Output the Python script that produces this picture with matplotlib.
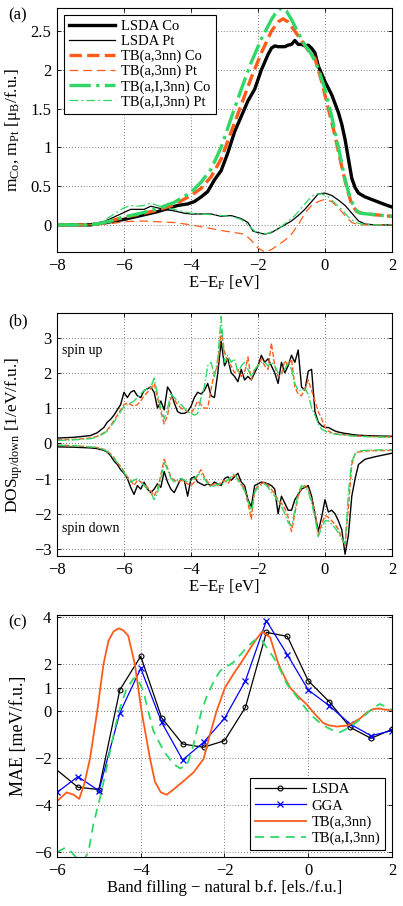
import numpy as np
import matplotlib
matplotlib.use('Agg')
import matplotlib.pyplot as plt
from matplotlib.ticker import FuncFormatter

plt.rcParams['font.family'] = ['Liberation Serif', 'DejaVu Serif']
plt.rcParams['mathtext.fontset'] = 'custom'
plt.rcParams['mathtext.rm'] = 'Liberation Serif'
plt.rcParams['mathtext.it'] = 'Liberation Serif:italic'
plt.rcParams['font.size'] = 12

ORANGE = '#ff5c1a'
GREEN = '#2fd866'

# ---- (a) magnetic moments vs E-E_F ----
co_lsda_e = [-8, -7, -6.7, -6.4, -6.0, -5.7, -5.4, -5.0, -4.7, -4.4, -4.1, -3.9, -3.7, -3.5, -3.3, -3.1,
             -2.9, -2.7, -2.5, -2.3, -2.1, -1.9, -1.8, -1.7, -1.6, -1.5, -1.4, -1.3, -1.2, -1.1, -1.0,
             -0.9, -0.8, -0.7, -0.6, -0.5, -0.4, -0.3, -0.2, -0.1, 0.0, 0.2, 0.4, 0.5, 0.6, 0.7, 0.8,
             0.9, 1.0, 1.2, 1.5, 1.8, 2.0]
co_lsda = [0, 0.0, 0.02, 0.04, 0.07, 0.1, 0.13, 0.17, 0.21, 0.25, 0.27, 0.3, 0.36, 0.43, 0.58, 0.7,
           0.93, 1.2, 1.4, 1.6, 1.75, 2.0, 2.1, 2.2, 2.28, 2.31, 2.3, 2.3, 2.3, 2.32, 2.33,
           2.38, 2.33, 2.33, 2.31, 2.32, 2.28, 2.22, 2.05, 1.95, 1.85, 1.68, 1.45, 1.3, 1.1, 0.85, 0.6,
           0.48, 0.41, 0.36, 0.31, 0.26, 0.23]

co_tb_e = [-8, -7, -6.7, -6.4, -6.0, -5.5, -5.0, -4.5, -4.0, -3.7, -3.4, -3.1, -2.8, -2.5, -2.2, -1.9,
           -1.6, -1.4, -1.25, -1.1, -0.9, -0.7, -0.5, -0.3, -0.1, 0.1, 0.3, 0.5, 0.65, 0.8, 0.95,
           1.1, 1.5, 2.0]
co_tb = [0, 0, 0.02, 0.05, 0.1, 0.14, 0.19, 0.26, 0.38, 0.47, 0.62, 0.85, 1.2, 1.55, 1.9, 2.22,
         2.5, 2.62, 2.66, 2.62, 2.5, 2.38, 2.25, 2.15, 1.85, 1.5, 1.15, 0.75, 0.48, 0.26, 0.17,
         0.15, 0.13, 0.11]

co_tbi_e = [-8, -7, -6.7, -6.4, -6.0, -5.5, -5.0, -4.5, -4.0, -3.7, -3.4, -3.1, -2.8, -2.5, -2.2, -1.9,
            -1.6, -1.45, -1.3, -1.15, -1.0, -0.8, -0.6, -0.4, -0.2, 0.0, 0.2, 0.4, 0.6, 0.75, 0.9,
            1.05, 1.5, 2.0]
co_tbi = [0, 0, 0.02, 0.05, 0.1, 0.15, 0.21, 0.29, 0.42, 0.55, 0.72, 1.0, 1.38, 1.75, 2.1, 2.4,
          2.65, 2.75, 2.8, 2.76, 2.65, 2.48, 2.32, 2.2, 2.02, 1.75, 1.4, 1.0, 0.58, 0.35, 0.2,
          0.15, 0.13, 0.11]

pt_lsda_e = [-8, -7, -6.6, -6.3, -6.0, -5.8, -5.6, -5.4, -5.2, -5.0, -4.8, -4.5, -4.2, -4.0, -3.7, -3.4,
             -3.1, -2.8, -2.5, -2.3, -2.15, -2.0, -1.8, -1.6, -1.4, -1.2, -1.0, -0.8, -0.6, -0.4, -0.2,
             0.0, 0.2, 0.4, 0.6, 0.8, 1.0, 1.2, 1.5, 2.0]
pt_lsda = [0, 0, 0.04, 0.1, 0.16, 0.2, 0.2, 0.2, 0.24, 0.22, 0.2, 0.18, 0.15, 0.14, 0.14, 0.14,
           0.11, 0.12, 0.08, 0.03, -0.08, -0.1, -0.12, -0.1, -0.05, 0.0, 0.05, 0.12, 0.2, 0.3, 0.4,
           0.41, 0.38, 0.32, 0.25, 0.15, 0.05, 0.01, 0.0, 0.0]

pt_tb_e = [-8, -7, -6.5, -6.0, -5.5, -5.0, -4.5, -4.0, -3.5, -3.0, -2.7, -2.4, -2.2, -2.0, -1.8, -1.6,
           -1.4, -1.2, -1.0, -0.8, -0.6, -0.4, -0.2, 0.0, 0.2, 0.4, 0.6, 0.8, 1.0, 1.5, 2.0]
pt_tb = [0, 0, 0.01, 0.04, 0.05, 0.04, 0.03, 0.0, -0.04, -0.08, -0.1, -0.12, -0.2, -0.3, -0.35, -0.32,
         -0.26, -0.2, -0.12, 0.0, 0.15, 0.25, 0.3, 0.33, 0.3, 0.22, 0.12, 0.03, 0.0, 0.0, 0.0]

pt_tbi_e = [-8, -7, -6.6, -6.3, -6.0, -5.8, -5.6, -5.4, -5.2, -5.0, -4.8, -4.5, -4.2, -4.0, -3.7, -3.4,
            -3.1, -2.8, -2.5, -2.3, -2.1, -1.9, -1.7, -1.5, -1.3, -1.1, -0.9, -0.7, -0.5, -0.3, -0.1,
            0.1, 0.3, 0.5, 0.7, 0.9, 1.1, 1.5, 2.0]
pt_tbi = [0, 0, 0.05, 0.14, 0.22, 0.25, 0.24, 0.25, 0.28, 0.25, 0.22, 0.2, 0.17, 0.15, 0.14, 0.13,
          0.12, 0.11, 0.07, 0.0, -0.08, -0.12, -0.11, -0.07, -0.02, 0.05, 0.12, 0.22, 0.32, 0.4, 0.4,
          0.36, 0.28, 0.2, 0.1, 0.03, 0.01, 0.0, 0.0]

# ---- (b) DOS spin up / spin down ----
dos_e = [-8, -7.5, -7, -6.8, -6.6, -6.5, -6.4, -6.3, -6.2, -6.1, -6.0, -5.9, -5.8, -5.7, -5.6, -5.5,
         -5.4, -5.3, -5.2, -5.1, -5.0, -4.9, -4.8, -4.7, -4.6, -4.5, -4.4, -4.3, -4.2, -4.1, -4.0,
         -3.9, -3.8, -3.7, -3.6, -3.5, -3.4, -3.3, -3.2, -3.1, -3.0, -2.9, -2.8, -2.7, -2.6, -2.5,
         -2.4, -2.3, -2.2, -2.1, -2.0, -1.9, -1.8, -1.7, -1.6, -1.5, -1.4, -1.3, -1.2, -1.1, -1.0,
         -0.9, -0.8, -0.7, -0.6, -0.5, -0.4, -0.3, -0.2, -0.1, 0.0, 0.1, 0.2, 0.3, 0.4, 0.5,
         0.6, 0.7, 0.8, 0.9, 1.0, 1.2, 1.5, 2.0]

up_lsda = [0.15, 0.17, 0.22, 0.3, 0.45, 0.6, 0.68, 0.8, 0.95, 1.1, 1.45, 1.3, 1.45, 1.5, 1.35, 1.3,
           1.5, 1.55, 1.6, 1.45, 1.0, 1.2, 0.95, 1.6, 1.45, 1.15, 0.9, 0.85, 0.85, 0.9, 1.05,
           1.3, 1.45, 1.4, 1.5, 1.7, 1.35, 1.3, 2.0, 2.9, 2.2, 2.4, 2.0, 1.9, 1.75, 2.1,
           1.8, 1.9, 1.8, 2.0, 2.2, 2.5, 2.3, 2.4, 2.2, 2.0, 1.7, 2.3, 2.0, 2.2, 2.5,
           2.3, 2.65, 1.6, 1.5, 2.05, 2.1, 0.9, 0.6, 0.5, 0.45, 0.45, 0.4, 0.35, 0.32, 0.3,
           0.28, 0.27, 0.25, 0.24, 0.23, 0.22, 0.21, 0.2]
up_tb = [0.1, 0.11, 0.15, 0.2, 0.3, 0.38, 0.5, 0.65, 0.8, 0.95, 1.1, 1.15, 1.1, 1.05, 1.1, 1.2,
         1.35, 1.45, 1.55, 1.7, 1.3, 0.9, 0.55, 0.8, 1.3, 1.25, 1.1, 1.0, 0.95, 0.9, 0.85,
         1.0, 1.2, 1.1, 1.0, 1.0, 1.55, 2.0, 2.2, 3.2, 2.6, 2.3, 2.2, 2.0, 2.1, 1.9,
         2.0, 2.45, 1.8, 2.1, 2.2, 2.4, 2.2, 2.1, 2.85, 2.2, 1.9, 1.95, 2.35, 2.2, 2.4,
         1.6, 1.4, 1.35, 1.55, 1.8, 1.5, 1.2, 0.9, 0.7, 0.45, 0.35, 0.3, 0.28, 0.26, 0.25,
         0.24, 0.23, 0.22, 0.21, 0.2, 0.2, 0.19, 0.18]
up_tbi = [0.08, 0.1, 0.13, 0.18, 0.28, 0.35, 0.48, 0.6, 0.75, 0.9, 1.05, 1.1, 1.15, 1.2, 1.3, 1.4,
          1.5, 1.55, 1.6, 1.85, 1.4, 1.0, 0.7, 1.0, 1.4, 1.3, 1.2, 1.1, 1.0, 0.9, 0.85,
          0.8, 0.85, 1.3, 1.6, 2.2, 2.3, 1.9, 2.4, 3.6, 2.3, 2.5, 2.3, 2.4, 2.0, 2.2,
          2.3, 2.1, 1.9, 2.1, 2.2, 2.3, 2.3, 2.2, 2.3, 2.2, 2.0, 2.0, 2.1, 2.3, 2.1,
          1.7, 1.5, 1.5, 1.55, 1.4, 1.0, 0.8, 0.55, 0.4, 0.35, 0.3, 0.28, 0.26, 0.25, 0.24,
          0.23, 0.22, 0.21, 0.2, 0.2, 0.19, 0.18, 0.17]

down_lsda = [-0.1, -0.11, -0.13, -0.15, -0.2, -0.25, -0.35, -0.5, -0.6, -0.75, -0.85, -1.0, -1.25, -1.45, -1.2, -1.3,
             -1.1, -1.3, -1.4, -1.3, -1.15, -1.25, -0.8, -1.1, -1.3, -1.4, -1.2, -1.0, -1.05, -1.5, -1.0,
             -0.95, -1.1, -1.15, -1.2, -1.15, -1.2, -1.1, -1.15, -1.2, -1.0, -0.95, -1.05, -0.95, -0.85, -1.1,
             -1.2, -1.6, -1.8, -1.2, -1.15, -1.1, -1.12, -1.15, -1.2, -1.3, -2.0, -1.5, -1.7, -1.9, -1.9,
             -1.6, -1.45, -1.3, -1.25, -1.2, -1.5, -2.0, -2.5, -2.1, -1.6, -1.95, -1.9, -2.0, -2.2, -2.45,
             -3.15, -2.6, -1.5, -1.0, -0.6, -0.45, -0.38, -0.28]
down_tb = [-0.05, -0.07, -0.1, -0.12, -0.17, -0.22, -0.3, -0.4, -0.55, -0.65, -0.8, -0.95, -1.05, -1.2, -1.05, -1.1,
           -1.15, -1.25, -1.35, -1.5, -1.3, -0.9, -0.45, -0.7, -0.95, -1.05, -1.1, -1.05, -1.1, -1.15, -1.2,
           -1.1, -0.9, -0.75, -0.95, -1.1, -1.2, -1.15, -1.2, -1.1, -1.05, -1.15, -1.0, -0.9, -1.0, -1.15,
           -1.3, -1.7, -2.15, -1.35, -1.2, -1.15, -1.1, -1.2, -1.3, -1.45, -1.6, -1.7, -1.85, -2.1, -2.5,
           -2.0, -1.5, -1.25, -1.2, -1.3, -1.6, -1.95, -2.6, -2.3, -2.05, -2.1, -2.2, -2.3, -2.45, -2.7,
           -2.9, -1.8, -0.6, -0.3, -0.25, -0.22, -0.21, -0.2]
down_tbi = [-0.05, -0.07, -0.1, -0.12, -0.18, -0.23, -0.32, -0.42, -0.55, -0.68, -0.82, -0.98, -1.1, -1.05, -1.0, -1.1,
            -1.2, -1.3, -1.4, -1.6, -1.4, -1.0, -0.55, -0.75, -1.0, -1.1, -1.05, -1.0, -1.05, -1.1, -1.05,
            -1.0, -0.9, -0.85, -1.0, -1.15, -1.25, -1.2, -1.15, -1.2, -1.1, -1.05, -0.95, -0.85, -1.05, -1.2,
            -1.35, -1.6, -1.95, -1.4, -1.25, -1.2, -1.15, -1.25, -1.4, -1.5, -1.65, -1.8, -2.0, -2.25, -2.35,
            -1.9, -1.4, -1.2, -1.25, -1.35, -1.7, -2.1, -2.65, -2.4, -2.2, -2.2, -2.3, -2.4, -2.55, -2.7,
            -2.85, -1.4, -0.5, -0.3, -0.22, -0.2, -0.19, -0.18]

# ---- (c) MAE vs band filling ----
bf_dft = [-6, -5.5, -5, -4.5, -4, -3.5, -3, -2.5, -2, -1.5, -1, -0.5, 0, 0.5, 1, 1.5, 2]
mae_lsda = [-2.5, -3.23, -3.33, 0.91, 2.34, -0.28, -1.39, -1.53, -1.25, 0.17, 3.36, 3.19, 1.30, 0.41, -0.68, -1.15, -0.77]
mae_gga = [-3.45, -2.78, -3.38, -0.07, 1.83, -0.47, -2.07, -1.32, -0.3, 1.3, 3.86, 2.41, 0.91, 0.24, -0.54, -1.04, -0.82]

bf_tb = [-6.0, -5.77, -5.6, -5.47, -5.35, -5.21, -5.04, -4.89, -4.77, -4.65, -4.53, -4.42, -4.3, -4.14, -3.98,
         -3.78, -3.66, -3.52, -3.38, -3.2, -3.06, -2.9, -2.74, -2.5, -2.35, -2.19, -1.99, -1.8, -1.63, -1.45,
         -1.27, -1.1, -0.91, -0.71, -0.55, -0.43, -0.25, -0.04, 0.15, 0.36, 0.5, 0.68, 0.96, 1.1, 1.24,
         1.4, 1.56, 1.7, 1.8, 2.0]
mae_tb = [-3.83, -3.45, -3.55, -3.73, -3.1, -2.0, 0.0, 2.0, 3.0, 3.4, 3.53, 3.45, 3.22, 2.0, 0.0,
          -2.0, -3.0, -3.45, -3.55, -3.3, -3.09, -2.85, -2.6, -2.03, -1.0, 0.0, 1.0, 1.55, 2.0, 2.5,
          3.0, 3.39, 3.15, 2.0, 1.4, 1.0, 0.65, 0.3, -0.1, -0.5, -0.6, -0.65, -0.6, -0.45, -0.3,
          -0.05, 0.1, 0.12, 0.08, 0.05]

bf_tbi = [-6.0, -5.8, -5.65, -5.5, -5.35, -5.25, -5.13, -4.97, -4.85, -4.73, -4.6, -4.49, -4.35, -4.18, -4.1,
          -3.94, -3.82, -3.7, -3.46, -3.22, -3.06, -2.9, -2.78, -2.66, -2.55, -2.43, -2.25, -2.1, -1.95, -1.79,
          -1.6, -1.47, -1.3, -1.2, -1.1, -0.95, -0.83, -0.65, -0.51, -0.35, -0.2, 0.04, 0.25, 0.44, 0.6,
          0.76, 0.99, 1.2, 1.39, 1.55, 1.71, 1.85, 2.0]
mae_tbi = [-6.0, -5.8, -6.0, -6.3, -6.3, -6.0, -4.8, -3.66, -2.7, -1.67, -0.6, 0.17, 0.9, 1.38, 1.45,
           0.88, 0.0, -0.82, -1.67, -2.24, -2.43, -2.3, -1.7, -0.82, 0.0, 0.6, 1.3, 1.73, 1.9, 2.08,
           2.45, 2.72, 3.0, 3.1, 3.0, 2.6, 2.3, 1.7, 1.16, 0.8, 0.45, -0.11, -0.45, -0.68, -0.82,
           -0.89, -0.68, -0.4, -0.11, 0.15, 0.31, 0.2, 0.06]


def style_axes(ax):
    ax.tick_params(direction='in', top=True, right=True, length=3, width=0.6, labelsize=12, pad=4)
    ax.grid(True, linestyle=(0, (1, 2.5)), color='#555555', linewidth=0.6)
    for s in ax.spines.values():
        s.set_linewidth(0.8)


fig = plt.figure(figsize=(4.03, 9.06), dpi=100)
axa = fig.add_axes([0.1414, 0.7219, 0.8313, 0.2693])
axb = fig.add_axes([0.1414, 0.3863, 0.8313, 0.2682])
axc = fig.add_axes([0.1414, 0.0541, 0.8313, 0.2671])

# panel (a)
axa.plot(co_lsda_e, co_lsda, color='black', lw=2.4, label='LSDA Co')
axa.plot(pt_lsda_e, pt_lsda, color='black', lw=0.9, label='LSDA Pt')
axa.plot(co_tb_e, co_tb, color=ORANGE, lw=2.4, ls='--', label='TB(a,3nn) Co')
axa.plot(pt_tb_e, pt_tb, color=ORANGE, lw=0.9, ls=(0, (7, 4)), label='TB(a,3nn) Pt')
axa.plot(co_tbi_e, co_tbi, color=GREEN, lw=2.4, ls='-.', label='TB(a,I,3nn) Co')
axa.plot(pt_tbi_e, pt_tbi, color=GREEN, lw=0.9, ls=(0, (7, 2.5, 1.5, 2.5)), label='TB(a,I,3nn) Pt')
axa.set_xlim(-8, 2)
axa.set_ylim(-0.35, 2.8)
axa.set_xticks([-8, -6, -4, -2, 0, 2])
axa.set_yticks([0, 0.5, 1, 1.5, 2, 2.5])
axa.yaxis.set_major_formatter(FuncFormatter(lambda v, p: ('%g' % v).replace('-', '\u2212')))
axa.set_xlabel(r'E$-$E$_\mathrm{F}$ [eV]', labelpad=0)
axa.set_ylabel(r'm$_\mathrm{Co}$, m$_\mathrm{Pt}$ [$\mathrm{\mu}_\mathrm{B}$/f.u.]', fontsize=12.5)
axa.yaxis.set_label_coords(-0.1, 0.5)
style_axes(axa)
leg = axa.legend(loc='upper left', fontsize=10.5, handlelength=3.2, labelspacing=0.12,
                 borderaxespad=0.45, fancybox=False, edgecolor='black', framealpha=1,
                 handletextpad=0.4, borderpad=0.35)
leg.get_frame().set_linewidth(0.8)

# panel (b)
axb.plot(dos_e, up_lsda, color='black', lw=1.0)
axb.plot(dos_e, up_tb, color=ORANGE, lw=1.0, ls='--')
axb.plot(dos_e, up_tbi, color=GREEN, lw=1.0, ls='-.')
axb.plot(dos_e, down_lsda, color='black', lw=1.0)
axb.plot(dos_e, down_tb, color=ORANGE, lw=1.0, ls='--')
axb.plot(dos_e, down_tbi, color=GREEN, lw=1.0, ls='-.')
axb.set_xlim(-8, 2)
axb.set_ylim(-3.2, 3.7)
axb.set_xticks([-8, -6, -4, -2, 0, 2])
axb.set_yticks([-3, -2, -1, 0, 1, 2, 3])
axb.text(-7.85, 2.63, 'spin up', fontsize=10, va='center')
axb.text(-7.85, -2.43, 'spin down', fontsize=10, va='center')
axb.set_xlabel(r'E$-$E$_\mathrm{F}$ [eV]', labelpad=0)
axb.set_ylabel(r'DOS$_\mathrm{up/down}$ [1/eV/f.u.]', fontsize=12.5)
axb.yaxis.set_label_coords(-0.095, 0.5)
style_axes(axb)

# panel (c)
axc.plot(bf_dft, mae_lsda, color='black', lw=0.9, marker='o', ms=3.5, mfc='none', mew=0.8,
         markevery=list(range(1, len(bf_dft))), label='LSDA')
axc.plot(bf_dft, mae_gga, color='blue', lw=0.9, marker='x', ms=5, mew=0.9, label='GGA')
axc.plot(bf_tb, mae_tb, color=ORANGE, lw=1.3, label='TB(a,3nn)')
axc.plot(bf_tbi, mae_tbi, color=GREEN, lw=1.3, ls=(0, (5, 3.5)), label='TB(a,I,3nn)')
axc.set_xlim(-6, 2)
axc.set_ylim(-6.2, 4.1)
axc.set_xticks([-6, -4, -2, 0, 2])
axc.set_yticks([-6, -4, -2, 0, 1, 2, 4])
axc.set_xlabel(u'Band filling \u2212 natural b.f. [els./f.u.]', labelpad=1)
axc.set_ylabel('MAE [meV/f.u.]', fontsize=13)
axc.yaxis.set_label_coords(-0.09, 0.5)
style_axes(axc)
leg = axc.legend(loc='lower right', fontsize=10.5, handlelength=3.5, labelspacing=0.2,
                 borderaxespad=0.45, fancybox=False, edgecolor='black', framealpha=1,
                 handletextpad=0.4, borderpad=0.35)
leg.get_frame().set_linewidth(0.8)

fig.text(0.02, 0.983, '(a)', fontsize=12, va='center')
fig.text(0.02, 0.645, '(b)', fontsize=12, va='center')
fig.text(0.02, 0.313, '(c)', fontsize=12, va='center')

fig.savefig('out.png', dpi=100)
